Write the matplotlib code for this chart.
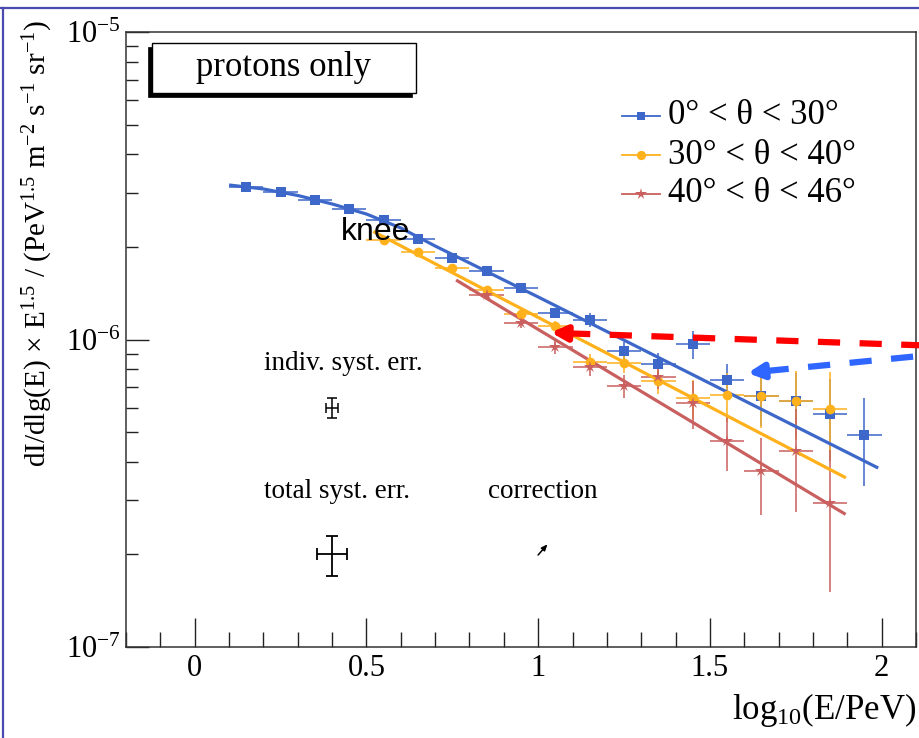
import numpy as np
import matplotlib
matplotlib.use('Agg')
import matplotlib.pyplot as plt
from matplotlib.ticker import MultipleLocator, LogLocator, NullFormatter, FixedLocator
from matplotlib.patches import Rectangle
from matplotlib.lines import Line2D

plt.rcParams['font.family'] = ['Liberation Serif', 'DejaVu Serif']
plt.rcParams['mathtext.fontset'] = 'custom'
plt.rcParams['mathtext.rm'] = 'Liberation Serif'
plt.rcParams['mathtext.it'] = 'Liberation Serif:italic'
plt.rcParams['mathtext.bf'] = 'Liberation Serif:bold'
plt.rcParams['lines.scale_dashes'] = False

UNIT = 1e-6

# ---- data (values in units of 1e-6) ----
x_blue = [0.15, 0.25, 0.35, 0.45, 0.55, 0.65, 0.75, 0.85, 0.95, 1.05,
          1.15, 1.25, 1.35, 1.45, 1.55, 1.65, 1.75, 1.85, 1.95]
y_blue = [3.133, 3.017, 2.832, 2.657, 2.447, 2.122, 1.841, 1.670, 1.471, 1.219,
          1.157, 0.918, 0.833, 0.967, 0.738, 0.655, 0.631, 0.573, 0.489]
e_blue = [0.03, 0.03, 0.03, 0.03, 0.03, 0.03, 0.03, 0.03, 0.03, 0.04,
          0.06, 0.06, 0.07, 0.10, 0.095, 0.13, 0.15, 0.17, 0.155]

x_orange = [0.55, 0.65, 0.75, 0.85, 0.95, 1.05, 1.15, 1.25, 1.35, 1.45,
            1.55, 1.65, 1.75, 1.85]
y_orange = [2.106, 1.925, 1.708, 1.449, 1.210, 1.106, 0.845, 0.839, 0.733, 0.645,
            0.660, 0.655, 0.631, 0.594]
e_orange = [0.03, 0.03, 0.03, 0.03, 0.03, 0.04, 0.05, 0.06, 0.07, 0.093,
            0.12, 0.14, 0.16, 0.19]

x_red = [0.85, 0.95, 1.05, 1.15, 1.25, 1.35, 1.45, 1.55, 1.65, 1.75, 1.85]
y_red = [1.396, 1.131, 0.945, 0.814, 0.706, 0.755, 0.621, 0.468, 0.374, 0.434, 0.294]
e_red = [0.03, 0.04, 0.045, 0.055, 0.06, 0.065, 0.11, 0.095, 0.105, 0.16, 0.143]

xerr_half = 0.05

fit_blue_x = [0.1, 0.2, 0.3, 0.4, 0.5, 0.6, 0.7, 0.8, 0.9, 1.0, 1.99]
fit_blue_y = [3.180, 3.087, 2.940, 2.759, 2.559, 2.305, 2.014, 1.774, 1.561, 1.375, 0.382]
fit_orange_x = [0.52, 1.896]
fit_orange_y = [2.245, 0.355]
fit_red_x = [0.761, 1.895]
fit_red_y = [1.561, 0.270]

labels = ['0° < θ < 30°', '30° < θ < 40°', '40° < θ < 46°']
x_ticks = [0, 0.5, 1, 1.5, 2]
x_ticklabels = ['0', '0.5', '1', '1.5', '2']
y_ticks = [1e-7, 1e-6, 1e-5]
y_ticklabels = [r'$10^{-7}$', r'$10^{-6}$', r'$10^{-5}$']

# systematic error crosses (values in 1e-6)
indiv_x, indiv_y, indiv_xe, indiv_ye = 0.40, 0.600, 0.017, 0.045
total_x, total_y, total_xe, total_ye = 0.40, 0.200, 0.044, 0.030

C_BLUE = '#3d67c9'
C_ORANGE = '#ffb11c'
C_RED = '#c9605f'

fig = plt.figure(figsize=(9.19, 7.38), dpi=100)
ax = fig.add_axes([126/919, 91/738, 790/919, 615/738])

def sc(v):
    return np.asarray(v) * UNIT

series = [
    (x_blue, y_blue, e_blue, fit_blue_x, fit_blue_y, C_BLUE, 's', 6.5),
    (x_orange, y_orange, e_orange, fit_orange_x, fit_orange_y, C_ORANGE, 'o', 7),
    (x_red, y_red, e_red, fit_red_x, fit_red_y, C_RED, '*', 9),
]
for xs, ys, es, fx, fy, col, mk, ms in series:
    ax.errorbar(xs, sc(ys), xerr=xerr_half, yerr=sc(es), fmt='none',
                ecolor=col, elinewidth=1.3, alpha=0.85, zorder=2)
    ax.plot(fx, sc(fy), color=col, lw=2.3, zorder=3, solid_capstyle='butt')
    ax.plot(xs, sc(ys), linestyle='none', marker=mk, color=col, ms=ms,
            markeredgewidth=0, zorder=4)

ax.set_yscale('log')
ax.set_xlim(-0.2, 2.1)
ax.set_ylim(1e-7, 1e-5)

ax.xaxis.set_major_locator(FixedLocator(x_ticks))
ax.set_xticklabels(x_ticklabels)
ax.xaxis.set_minor_locator(MultipleLocator(0.1))
ax.yaxis.set_major_locator(FixedLocator(y_ticks))
ax.set_yticklabels(y_ticklabels)
ax.yaxis.set_minor_locator(LogLocator(base=10, subs=np.arange(2, 10)))
ax.yaxis.set_minor_formatter(NullFormatter())

ax.tick_params(axis='x', which='major', direction='in', length=21, width=1.0,
               labelsize=22, pad=5, top=False, colors='#222222', labelcolor='black')
ax.tick_params(axis='x', which='minor', direction='in', length=10.5, width=1.0,
               top=False, colors='#222222')
ax.tick_params(axis='y', which='major', direction='in', length=16.5, width=1.0,
               labelsize=22, pad=4, right=False, colors='#222222', labelcolor='black')
ax.tick_params(axis='y', which='minor', direction='in', length=8.5, width=1.0,
               right=False, colors='#222222')
for s in ax.spines.values():
    s.set_linewidth(1.1)
    s.set_color('#333333')

# axis titles
fig.text(916/919, 1 - 710/738, r'log$_{10}$(E/PeV)', ha='right', va='center', fontsize=25)
fig.text(38/919, 1 - 20/738,
         r'dI/dlg(E)$\,\times\,$E$^{1.5}$ / (PeV$^{1.5}$ m$^{-2}$ s$^{-1}$ sr$^{-1}$)',
         rotation=90, ha='center', va='top', fontsize=21)

# "protons only" box with shadow
def axx(px):
    return (px - 126) / 790
def axy(py):
    return (647 - py) / 615
bx0, bx1, by0, by1 = axx(152), axx(416), axy(93), axy(43)
ax.add_patch(Rectangle((bx0 - 4/790, by0 - 4/615), bx1 - bx0, by1 - by0,
                       transform=ax.transAxes, facecolor='black', edgecolor='black',
                       lw=0.5, clip_on=False, zorder=5))
ax.add_patch(Rectangle((bx0, by0), bx1 - bx0, by1 - by0, transform=ax.transAxes,
                       facecolor='white', edgecolor='black', lw=1.0, clip_on=False, zorder=6))
ax.text((bx0 + bx1) / 2, (by0 + by1) / 2, 'protons only', transform=ax.transAxes,
        ha='center', va='center', fontsize=25, zorder=7)

# legend (manual)
leg_rows = [axy(116), axy(155), axy(194)]
for (xs, ys, es, fx, fy, col, mk, ms), lab, ly in zip(series, labels, leg_rows):
    ax.add_line(Line2D([axx(622), axx(660)], [ly, ly], transform=ax.transAxes,
                       color=col, lw=1.3, clip_on=False, zorder=6))
    ax.add_line(Line2D([axx(641)], [ly], transform=ax.transAxes, color=col,
                       marker=mk, ms=ms * 0.95, markeredgewidth=0, clip_on=False, zorder=7))
    ax.text(axx(668), ly, lab, transform=ax.transAxes, ha='left', va='center',
            fontsize=25, zorder=7)

# knee label
ax.text(0.425, 2.107e-6, 'knee', family=['Liberation Sans', 'DejaVu Sans'],
        fontsize=23, ha='left', va='baseline', zorder=8)

# systematic error annotations
ax.text(0.201, 7.957e-7, 'indiv. syst. err.', fontsize=19.5, ha='left', va='baseline')
ax.errorbar([indiv_x], sc([indiv_y]), xerr=indiv_xe, yerr=sc([indiv_ye]), fmt='none',
            ecolor='black', elinewidth=1.1, capsize=3.5, capthick=1.1)
ax.text(0.201, 3.052e-7, 'total syst. err.', fontsize=19.5, ha='left', va='baseline')
ax.errorbar([total_x], sc([total_y]), xerr=total_xe, yerr=sc([total_ye]), fmt='none',
            ecolor='black', elinewidth=1.3, capsize=4.5, capthick=1.3)
ax.text(0.853, 3.052e-7, 'correction', fontsize=19.5, ha='left', va='baseline')
ax.annotate('', xy=(1.027, 2.157e-7), xytext=(0.9997, 1.991e-7),
            arrowprops=dict(arrowstyle='-|>,head_length=0.35,head_width=0.15',
                            color='black', lw=1.1, shrinkA=0, shrinkB=0))

# dashed arrows
def dashed_arrow(tip, base, tail, col):
    ax.plot([base[0], tail[0]], [base[1], tail[1]], color=col, lw=4.5,
            dashes=(16, 14), clip_on=False, zorder=9, solid_capstyle='butt',
            dash_capstyle='butt')
    ax.annotate('', xy=tip, xytext=base,
                arrowprops=dict(arrowstyle='-|>,head_length=0.9,head_width=0.45',
                                color=col, lw=4.5, shrinkA=0, shrinkB=0),
                annotation_clip=False, zorder=10)

red_tip = (1.037, 1.054e-6)
red_base = (1.087, 1.047e-6)
red_tail = (2.12, 9.57e-7)
dashed_arrow(red_tip, red_base, red_tail, '#ff0000')

blue_tip = (1.610, 7.78e-7)
blue_base = (1.665, 7.90e-7)
blue_tail = (2.12, 8.86e-7)
dashed_arrow(blue_tip, blue_base, blue_tail, '#2f66ff')

# slide border lines
fig.add_artist(Line2D([0, 1], [1 - 8/738, 1 - 8/738], transform=fig.transFigure,
                      color='#4a4ab0', lw=1.6))
fig.add_artist(Line2D([3/919, 3/919], [0, 1 - 8/738], transform=fig.transFigure,
                      color='#4a4ab0', lw=1.6))

fig.savefig('out.png', dpi=100)
